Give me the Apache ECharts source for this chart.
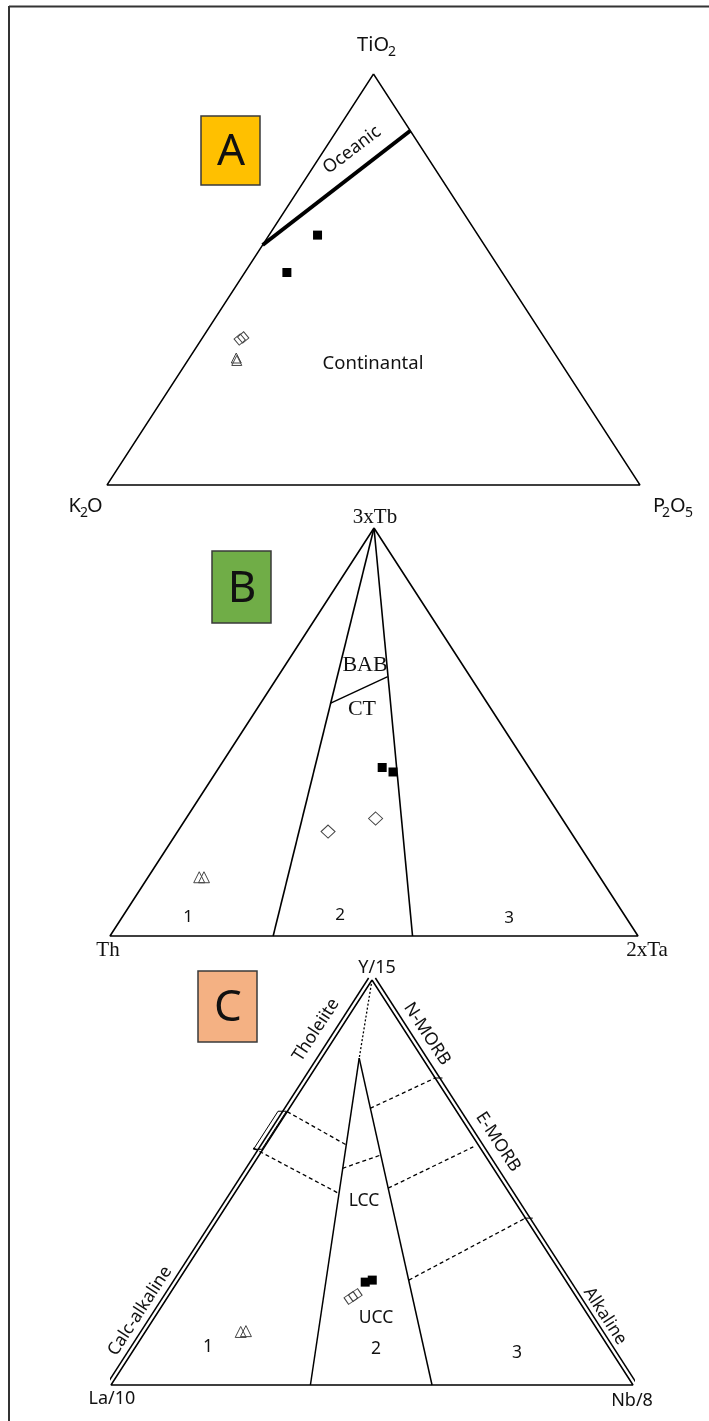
<!DOCTYPE html>
<html>
<head>
<meta charset="utf-8">
<title>Ternary discrimination diagrams</title>
<script src="https://cdn.jsdelivr.net/npm/echarts@6/dist/echarts.min.js"></script>
<style>
  html, body { margin: 0; padding: 0; background: #fff; }
  #chart { width: 709px; height: 1421px; }
</style>
</head>
<body>
<div id="chart"></div>
<script>
// compositions in percent, order: [top apex, left corner, right corner]

// A: TiO2 - K2O - P2O5
var aSquares = [[60.8, 30.1, 9.1], [51.7, 40.4, 7.9]];
var aDiamonds = [[35.4, 57.4, 7.2], [35.9, 56.5, 7.6]];
var aTriangles = [[30.9, 60.3, 8.8], [30.3, 60.5, 9.2]];
var aOceanicLine = [[58.4, 41.6, 0], [86.2, 0, 13.8]];

// B: 3xTb - Th - 2xTa
var bSquares = [[41.3, 27.8, 30.9], [40.2, 26.3, 33.5]];
var bDiamonds = [[25.6, 45.9, 28.5], [28.8, 35.3, 35.9]];
var bTriangles = [[14.4, 75.9, 9.7], [14.4, 75.0, 10.6]];
var bLeftField = [[100, 0, 0], [0, 69.1, 30.9]];
var bRightField = [[100, 0, 0], [0, 42.7, 57.3]];
var bBabCt = [[57.0, 29.8, 13.2], [63.6, 15.6, 20.8]];

// C: Y/15 - La/10 - Nb/8
var cSquares = [[25.4, 38.6, 36.0], [25.9, 37.0, 37.1]];
var cDiamonds = [[21.5, 43.3, 35.2], [22.2, 42.1, 35.7]];
var cTriangles = [[13.1, 68.6, 18.3], [13.3, 67.5, 19.2]];
var cLeftField = [[80.7, 12.1, 7.2], [0, 61.8, 38.2]];
var cRightField = [[80.7, 12.1, 7.2], [0, 38.5, 61.5]];
var cDotted = [[100, 0, 0], [80.7, 12.1, 7.2]];
var cDashed = [
    [[67.5, 32.5, 0], [59.3, 25.3, 15.4]],
    [[58.5, 43.5, -2.0], [47.3, 32.7, 20.0]],
    [[53.5, 28.9, 17.6], [56.8, 19.9, 23.3]],
    [[68.3, 16.2, 15.5], [75.8, 0, 24.2]],
    [[48.6, 22.6, 28.8], [58.8, 1.2, 40.0]],
    [[25.9, 30.0, 44.1], [41.2, 0, 58.8]]
];
var cOuterLeft = [[100.5, 0.4, -0.9], [0, 100.9, -0.9]];
var cOuterRight = [[100.5, -0.9, 0.4], [0, -0.9, 100.9]];
var cBreakBox = [[67.6, 32.6, -0.2], [58.2, 42.0, -0.2], [58.2, 43.6, -1.8], [67.6, 34.2, -1.8], [67.6, 32.6, -0.2]];
var cTicks = [
    [[75.8, 0.3, 23.9], [75.8, -1.4, 25.6]],
    [[41.2, 0.3, 58.5], [41.2, -1.4, 60.2]]
];

var outline = [[100, 0, 0], [0, 100, 0], [0, 0, 100], [100, 0, 0]];

// ternary -> cartesian inside a unit box (apex centred)
function toXY(t) {
    var s = t[0] + t[1] + t[2];
    return [(t[2] + t[0] / 2) / s, t[0] / s];
}

var series = [];

function addLine(g, pts, width, type) {
    series.push({
        type: 'line', xAxisIndex: g, yAxisIndex: g,
        data: pts.map(toXY), symbol: 'none', clip: false, silent: true,
        lineStyle: {color: '#000', width: width, type: type || 'solid'}
    });
}

function addPoints(g, pts, symbol, size, filled, rotate) {
    series.push({
        type: 'scatter', xAxisIndex: g, yAxisIndex: g,
        data: pts.map(toXY), symbol: symbol, symbolSize: size, symbolRotate: rotate || 0,
        clip: false, silent: true,
        itemStyle: filled ? {color: '#000', opacity: 1} :
            {color: 'rgba(255,255,255,0)', borderColor: '#444', borderWidth: 1, opacity: 1}
    });
}

// A
addLine(0, outline, 1.4);
addLine(0, aOceanicLine, 4);
addPoints(0, aSquares, 'rect', 9, true);
addPoints(0, aDiamonds, 'rect', 8, false, 40);
addPoints(0, aTriangles, 'triangle', 10, false);

// B
addLine(1, outline, 1.6);
addLine(1, bLeftField, 1.6);
addLine(1, bRightField, 1.6);
addLine(1, bBabCt, 1.4);
addPoints(1, bSquares, 'rect', 9, true);
addPoints(1, bDiamonds, 'diamond', [14, 13], false);
addPoints(1, bTriangles, 'triangle', 11, false);

// C
addLine(2, outline, 1.5);
addLine(2, cOuterLeft, 1.5);
addLine(2, cOuterRight, 1.5);
addLine(2, cLeftField, 1.5);
addLine(2, cRightField, 1.5);
addLine(2, cDotted, 1.3, [2, 2]);
addLine(2, cBreakBox, 1);
cDashed.forEach(function (d) { addLine(2, d, 1.3, [4, 3]); });
cTicks.forEach(function (d) { addLine(2, d, 1); });
addPoints(2, cSquares, 'rect', 9, true);
addPoints(2, cDiamonds, 'rect', [11, 8], false, 35);
addPoints(2, cTriangles, 'triangle', 11, false);

var SANS = '"Noto Sans", "Open Sans", sans-serif';
var SERIF = '"Liberation Serif", "DejaVu Serif", serif';

function txt(x, y, s, size, family, rot, align) {
    return {
        type: 'text', x: x, y: y, rotation: (rot || 0) * Math.PI / 180, silent: true,
        style: {
            text: s, font: size + 'px ' + family, fill: '#111',
            textAlign: align || 'center', textVerticalAlign: 'middle'
        }
    };
}

function box(x, y, w, h, fill) {
    return {
        type: 'rect', shape: {x: x, y: y, width: w, height: h}, silent: true,
        style: {fill: fill, stroke: '#3a3a3a', lineWidth: 1.5}
    };
}

var graphics = [
    // frame
    {type: 'line', shape: {x1: 9, y1: 6.5, x2: 709, y2: 6.5}, style: {stroke: '#333', lineWidth: 2}},
    {type: 'line', shape: {x1: 9, y1: 6, x2: 9, y2: 1421}, style: {stroke: '#333', lineWidth: 2}},

    // panel boxes
    box(201, 116, 59, 69, '#FFC000'),
    txt(231, 152, 'A', 44, SANS),
    box(212, 551, 59, 72, '#70AD47'),
    txt(242, 589, 'B', 44, SANS),
    box(198, 971, 59, 71, '#F4B183'),
    txt(228, 1008, 'C', 44, SANS),

    // A labels
    txt(389, 45, 'TiO', 20, SANS, 0, 'right'),
    txt(388, 52, '2', 14, SANS, 0, 'left'),
    txt(81, 506, 'K', 20, SANS, 0, 'right'),
    txt(80, 513, '2', 14, SANS, 0, 'left'),
    txt(87, 506, 'O', 20, SANS, 0, 'left'),
    txt(665, 506, 'P', 20, SANS, 0, 'right'),
    txt(662, 513, '2', 14, SANS, 0, 'left'),
    txt(670, 506, 'O', 20, SANS, 0, 'left'),
    txt(685, 513, '5', 14, SANS, 0, 'left'),
    txt(352, 150, 'Oceanic', 18, SANS, 37),
    txt(373, 364, 'Continantal', 18.5, SANS),

    // B labels
    txt(375, 517, '3xTb', 21, SERIF),
    txt(108, 950, 'Th', 21, SERIF),
    txt(647, 950, '2xTa', 21, SERIF),
    txt(365, 665, 'BAB', 22, SERIF),
    txt(362, 709, 'CT', 22, SERIF),
    txt(188, 917, '1', 17, SANS),
    txt(340, 915, '2', 17, SANS),
    txt(509, 918, '3', 17, SANS),

    // C labels
    txt(377, 968, 'Y/15', 18, SANS),
    txt(112, 1399, 'La/10', 18, SANS),
    txt(632, 1401, 'Nb/8', 18, SANS),
    txt(316, 1030, 'Tholeiite', 17.5, SANS, 57),
    txt(140, 1311, 'Calc-alkaline', 17.5, SANS, 57),
    txt(427, 1034, 'N-MORB', 17.5, SANS, -57),
    txt(498, 1142, 'E-MORB', 17.5, SANS, -57),
    txt(605, 1316, 'Alkaline', 17.5, SANS, -57),
    txt(364, 1201, 'LCC', 17.5, SANS),
    txt(376, 1318, 'UCC', 17.5, SANS),
    txt(208, 1347, '1', 17.5, SANS),
    txt(376, 1349, '2', 17.5, SANS),
    txt(517, 1353, '3', 17.5, SANS)
];

var chart = echarts.init(document.getElementById('chart'));
var axisBase = {type: 'value', min: 0, max: 1, show: false};
var option = {
    animation: false,
    backgroundColor: '#fff',
    grid: [
        {left: 107, top: 74, width: 533, height: 411},
        {left: 110, top: 528, width: 528, height: 408},
        {left: 111, top: 980, width: 522, height: 405}
    ],
    xAxis: [0, 1, 2].map(function (i) { return Object.assign({gridIndex: i}, axisBase); }),
    yAxis: [0, 1, 2].map(function (i) { return Object.assign({gridIndex: i}, axisBase); }),
    series: series,
    graphic: graphics
};
chart.setOption(option);
</script>
</body>
</html>
